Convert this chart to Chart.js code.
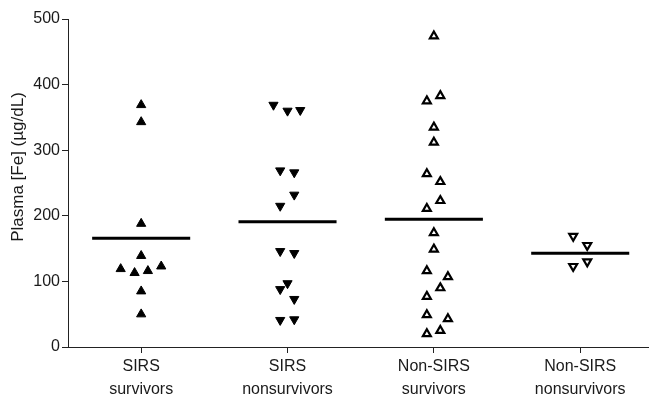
<!DOCTYPE html>
<html>
<head>
<meta charset="utf-8">
<script src="https://cdn.jsdelivr.net/npm/chart.js@4/dist/chart.umd.min.js"></script>
<style>
  html, body { margin: 0; padding: 0; background: #fff; }
  #wrap { width: 649px; height: 406px; }
</style>
</head>
<body>
<div id="wrap"><canvas id="fe"></canvas></div>
<script>
// groups along the x axis
groupLabels = [
    ["SIRS", "survivors"],
    ["SIRS", "nonsurvivors"],
    ["Non-SIRS", "survivors"],
    ["Non-SIRS", "nonsurvivors"]
];

// plasma Fe values (ug/dL)
sirsSurv = [369, 343, 188, 139, 119, 113, 116, 123, 85, 50];
sirsNonsurv = [369, 360, 361, 269, 266, 232, 215, 146, 143, 97, 88, 73, 41, 42];
nonSirsSurv = [474, 375, 383, 335, 312, 264, 252, 211, 223, 174, 149, 116, 107, 90, 77, 49, 43, 25, 20];
nonSirsNonsurv = [169, 155, 130, 123];

// horizontal scatter of each point around its group (fraction of a group)
sirsSurvJit = [0, 0, 0, 0, -0.14, -0.045, 0.046, 0.137, 0, 0];
sirsNonsurvJit = [-0.096, 0, 0.087, -0.05, 0.046, 0.046, -0.05, -0.05, 0.046, 0, -0.05, 0.046, -0.05, 0.046];
nonSirsSurvJit = [0, -0.048, 0.044, 0, 0, -0.048, 0.044, -0.048, 0.044, 0, 0, -0.048, 0.096, 0.044, -0.048, -0.048, 0.096, 0.044, -0.048];
nonSirsNonsurvJit = [-0.048, 0.048, 0.048, -0.048];

// group means (horizontal bars)
groupMeans = [165.7, 191, 194.6, 143];

yTicks = [0, 100, 200, 300, 400, 500];
yTitle = 'Plasma [Fe] (\u00b5g/dL)';

function toPoints(group, vals, jit){
    var pts = [];
    for (var i = 0; i < vals.length; i++) {
        pts.push({x: group + jit[i], y: vals[i]});
    }
    return pts;
}

function meanLine(group){
    return {
        type: 'line',
        data: [{x: group - 0.335, y: groupMeans[group-1]}, {x: group + 0.335, y: groupMeans[group-1]}],
        borderColor: '#000',
        borderWidth: 3,
        pointRadius: 0,
        showLine: true,
        fill: false
    };
}

var fontFam = "'Liberation Sans', Arial, sans-serif";

// y title sits a bit above the middle of the axis in the original
var yTitlePlugin = {
    id: 'yTitle',
    afterDraw: function(chart){
        var ctx = chart.ctx;
        var area = chart.chartArea;
        ctx.save();
        ctx.translate(18, (area.top + area.bottom) / 2 - 16);
        ctx.rotate(-Math.PI / 2);
        ctx.font = '17px ' + fontFam;
        ctx.fillStyle = '#1a1a1a';
        ctx.textAlign = 'center';
        ctx.textBaseline = 'middle';
        ctx.fillText(yTitle, 0, 0);
        ctx.restore();
    }
};

var datasets = [
    {data: toPoints(1, sirsSurv, sirsSurvJit), pointStyle: 'triangle', rotation: 0,
        backgroundColor: '#000', borderColor: '#000', borderWidth: 1, pointRadius: 5.3},
    {data: toPoints(2, sirsNonsurv, sirsNonsurvJit), pointStyle: 'triangle', rotation: 180,
        backgroundColor: '#000', borderColor: '#000', borderWidth: 1, pointRadius: 5.3},
    {data: toPoints(3, nonSirsSurv, nonSirsSurvJit), pointStyle: 'triangle', rotation: 0,
        backgroundColor: '#fff', borderColor: '#000', borderWidth: 2.2, pointRadius: 4.6},
    {data: toPoints(4, nonSirsNonsurv, nonSirsNonsurvJit), pointStyle: 'triangle', rotation: 180,
        backgroundColor: '#fff', borderColor: '#000', borderWidth: 2.2, pointRadius: 4.6},
    meanLine(1), meanLine(2), meanLine(3), meanLine(4)
];

new Chart(document.getElementById('fe'), {
    type: 'scatter',
    data: {datasets: datasets},
    plugins: [yTitlePlugin],
    options: {
        responsive: true,
        maintainAspectRatio: false,
        animation: false,
        clip: false,
        layout: {autoPadding: false, padding: {top: 19, right: 0, left: 0, bottom: 0}},
        plugins: {legend: {display: false}, tooltip: {enabled: false}},
        scales: {
            x: {
                type: 'linear',
                min: 0.5,
                max: 4.47,
                afterBuildTicks: function(scale){
                    scale.ticks = [1, 2, 3, 4].map(function(v){ return {value: v}; });
                },
                afterFit: function(scale){
                    scale.height = 59;
                    scale.paddingLeft = 0;
                    scale.paddingRight = 0;
                },
                ticks: {
                    autoSkip: false,
                    maxRotation: 0,
                    padding: 3,
                    color: '#1a1a1a',
                    font: {family: fontFam, size: 16, lineHeight: 1.38},
                    callback: function(v){ return groupLabels[v-1] || ''; }
                },
                grid: {drawOnChartArea: false, drawTicks: true, tickLength: 6, color: '#222', lineWidth: 1},
                border: {display: true, color: '#222', width: 1}
            },
            y: {
                min: 0,
                max: 500,
                afterBuildTicks: function(scale){
                    scale.ticks = yTicks.map(function(v){ return {value: v}; });
                },
                afterFit: function(scale){ scale.width = 68; },
                ticks: {
                    padding: 2,
                    color: '#1a1a1a',
                    font: {family: fontFam, size: 16}
                },
                grid: {drawOnChartArea: false, drawTicks: true, tickLength: 6, color: '#222', lineWidth: 1},
                border: {display: true, color: '#222', width: 1}
            }
        }
    }
});
</script>
</body>
</html>
